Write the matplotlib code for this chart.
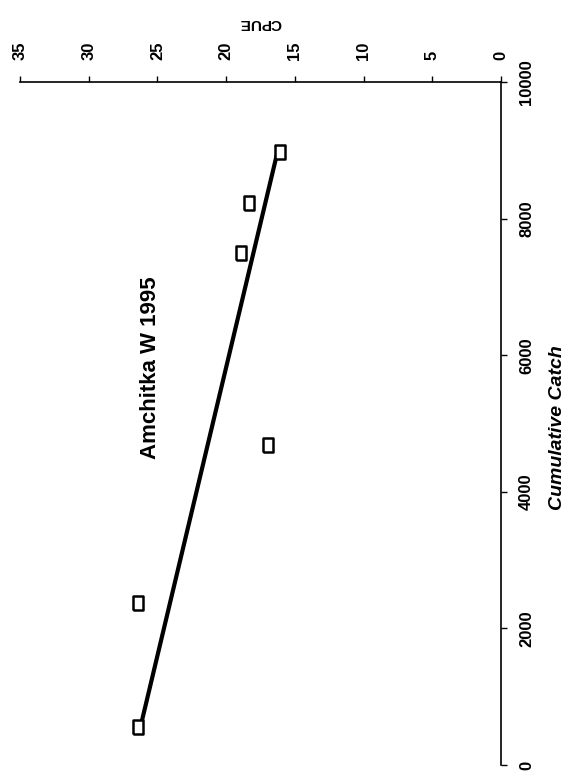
"""Amchitka W 1995: CPUE against cumulative catch (page scanned sideways)."""
import numpy as np
import matplotlib
matplotlib.use("Agg")
import matplotlib.pyplot as plt

# values
cum_catch = np.array([556, 2372, 4685, 7496, 8228, 8975])
cpue = np.array([26.4, 26.4, 16.95, 18.9, 18.35, 16.1])

cpue_ticks = [0, 5, 10, 15, 20, 25, 30, 35]
catch_ticks = [0, 2000, 4000, 6000, 8000, 10000]

title = "Amchitka W 1995"
catch_label = "Cumulative Catch"
cpue_label = "CPUE"

plt.rcParams['font.family'] = ['Liberation Sans', 'DejaVu Sans']

fig = plt.figure(figsize=(5.68, 7.77), dpi=100)
# the chart sits rotated on the page: CPUE runs along the top (35 at left,
# 0 at right), cumulative catch runs up the right hand side
ax = fig.add_axes([20 / 568, 1 - 765 / 777, (501 - 20) / 568, (765 - 82) / 777])

# regression line of CPUE on cumulative catch
slope, intercept = np.polyfit(cum_catch, cpue, 1)
catch_ends = np.array([cum_catch.min(), cum_catch.max()])
ax.plot(slope * catch_ends + intercept, catch_ends, color='black', lw=3,
        solid_capstyle='butt', zorder=2)

box = [(-0.7, -1), (0.7, -1), (0.7, 1), (-0.7, 1), (-0.7, -1)]
ax.plot(cpue, cum_catch, linestyle='none', marker=box, ms=10,
        mfc='white', mec='black', mew=1.8, zorder=3)

ax.set_xlim(35, 0)
ax.set_ylim(0, 10000)
ax.set_xticks(cpue_ticks)
ax.set_yticks(catch_ticks)

ax.spines['left'].set_visible(False)
ax.spines['bottom'].set_visible(False)
for side in ('top', 'right'):
    ax.spines[side].set_linewidth(1.2)

ax.xaxis.tick_top()
ax.yaxis.tick_right()
ax.tick_params(axis='x', labelrotation=90, length=4, width=1, pad=12,
               labelsize=12)
ax.tick_params(axis='y', labelrotation=90, length=4, width=1, pad=9,
               labelsize=12)
for lab in ax.get_xticklabels() + ax.get_yticklabels():
    lab.set_fontweight('bold')
for lab in ax.get_yticklabels():
    lab.set_verticalalignment('center')

fig.text(150 / 568, 1 - 368 / 777, title, rotation=90, ha='center',
         va='center', fontsize=16, fontweight='bold')
fig.text(557 / 568, 1 - 428 / 777, catch_label, rotation=90, ha='center',
         va='center', fontsize=14, fontweight='bold', style='italic')
fig.text(260 / 568, 1 - 23 / 777, cpue_label, rotation=180, ha='center',
         va='center', fontsize=11, fontweight='bold')

fig.savefig('out.png', dpi=100)
